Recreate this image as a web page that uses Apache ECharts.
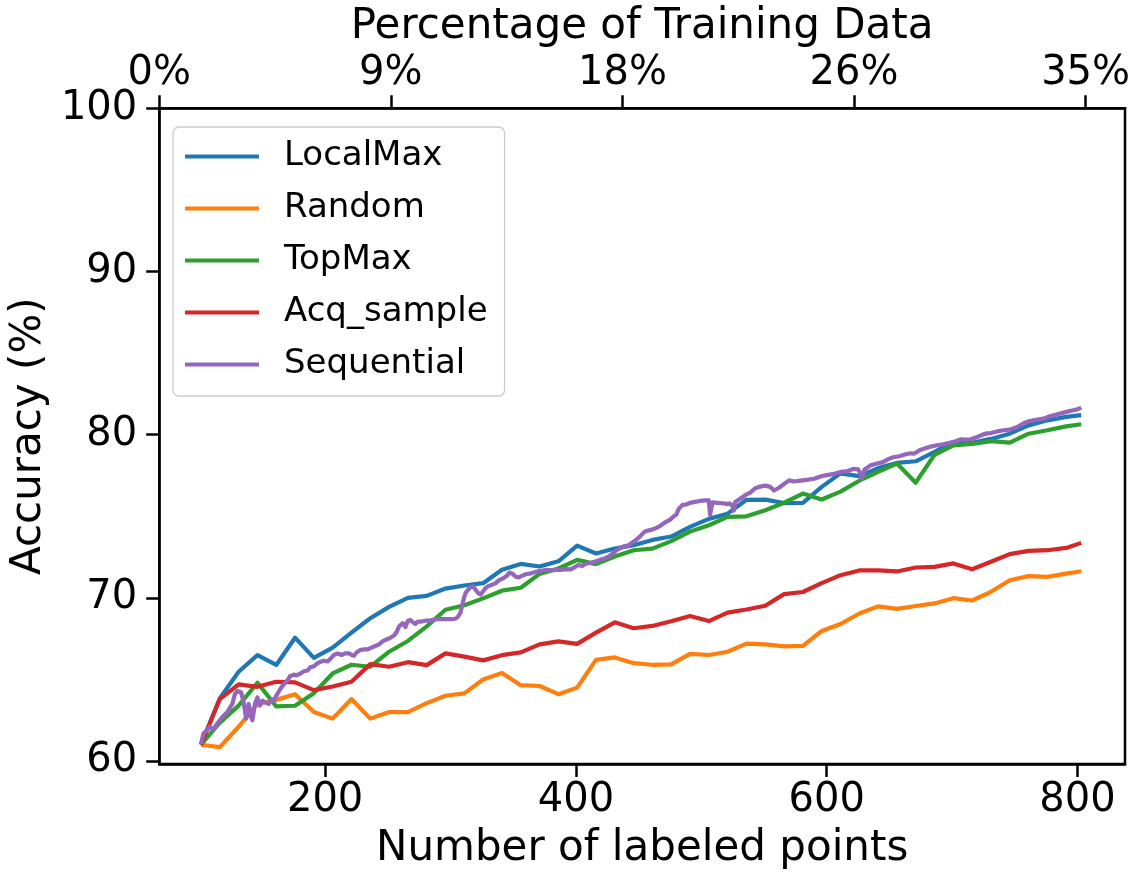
<!DOCTYPE html>
<html><head><meta charset="utf-8">
<script src="https://cdn.jsdelivr.net/npm/echarts@6/dist/echarts.min.js"></script>
<style>html,body{margin:0;padding:0;background:#fff}#chart{width:1141px;height:882px}</style>
</head><body><div id="chart"></div>
<script>
// Number of labeled points for the step-wise strategies
const xSteps = [101,116,131,146,161,176,191,206,221,236,251,266,281,296,311,326,341,356,371,386,401,416,431,446,461,476,491,506,521,536,551,566,581,596,611,626,641,656,671,686,701,716,731,746,761,776,791,803];
const localMax = [61.0,63.84,65.47,66.49,65.89,67.56,66.32,66.95,67.87,68.75,69.45,70.0,70.12,70.57,70.76,70.9,71.72,72.08,71.92,72.24,73.2,72.72,73.02,73.23,73.55,73.76,74.35,74.84,75.16,76.01,76.02,75.81,75.82,76.8,77.63,77.46,77.95,78.27,78.37,78.94,79.55,79.5,79.74,80.06,80.57,80.88,81.09,81.2];
const random = [61.0,60.85,62.1,63.5,63.75,64.1,63.0,62.6,63.8,62.6,63.0,63.0,63.55,64.0,64.15,65.0,65.4,64.65,64.6,64.1,64.5,66.2,66.35,66.0,65.9,65.93,66.57,66.5,66.7,67.2,67.15,67.03,67.06,67.97,68.4,69.04,69.48,69.33,69.5,69.66,69.98,69.84,70.37,71.08,71.33,71.29,71.49,71.63];
const topMax = [61.0,62.35,63.4,64.8,63.35,63.39,64.16,65.37,65.9,65.78,66.7,67.36,68.25,69.27,69.55,69.97,70.44,70.62,71.47,71.8,72.33,72.07,72.53,72.92,73.02,73.48,74.06,74.45,74.96,75.0,75.37,75.83,76.39,76.03,76.51,77.18,77.72,78.23,77.06,78.77,79.35,79.43,79.6,79.51,80.06,80.27,80.51,80.64];
const acqSample = [61.0,63.8,64.7,64.55,64.86,64.82,64.35,64.57,64.86,65.94,65.78,66.06,65.88,66.6,66.4,66.17,66.49,66.66,67.15,67.33,67.18,67.87,68.5,68.14,68.28,68.57,68.89,68.58,69.1,69.29,69.52,70.23,70.36,70.9,71.39,71.68,71.69,71.62,71.86,71.9,72.11,71.75,72.21,72.68,72.88,72.92,73.06,73.37];
// Sequential strategy (dense)
const seqX = [101,103,106,108,111,114,118,122,126,128,130,133,135,137,139,141,142,144,146,148,150,152,155,157,159,161,163,165,167,170,172,175,177,180,183,186,188,191,194,197,199,202,204,207,210,213,216,219,221,223,225,228,231,234,237,240,243,246,249,252,255,257,259,262,264,266,268,270,272,274,277,280,283,286,289,292,295,298,301,304,306,308,310,312,314,316,318,320,322,324,326,328,330,333,336,339,342,345,347,349,352,354,357,360,364,368,372,376,380,384,388,392,396,399,402,405,408,412,416,420,424,427,430,433,436,439,442,445,448,451,454,456,459,463,467,471,475,478,480,482,485,488,491,495,499,503,506,507,508,509,513,517,520,523,525,526,527,531,535,539,543,547,551,555,558,562,566,570,574,579,584,590,595,600,606,611,616,621,625,627,628,630,635,640,645,649,653,658,663,667,670,674,678,683,688,693,698,703,707,711,715,720,725,728,731,736,741,746,752,757,762,768,773,778,784,789,794,800,803];
const seqY = [61.05,61.7,61.9,62.1,61.95,62.3,62.7,63.0,63.5,64.1,64.3,64.2,63.6,62.6,63.5,62.7,62.5,63.5,63.9,63.4,63.7,63.6,63.5,63.8,63.7,64.0,64.25,64.5,64.7,64.95,65.2,65.3,65.25,65.35,65.5,65.55,65.75,65.8,66.0,66.1,66.15,66.1,66.25,66.5,66.6,66.5,66.6,66.6,66.5,66.45,66.65,66.8,66.85,66.85,66.95,67.05,67.15,67.35,67.45,67.55,67.7,67.9,68.25,68.45,68.2,68.6,68.65,68.5,68.4,68.55,68.55,68.6,68.6,68.65,68.7,68.7,68.7,68.7,68.7,68.72,68.85,69.1,69.8,70.3,70.5,70.65,70.7,70.5,70.3,70.2,70.4,70.6,70.72,70.8,70.9,71.1,71.2,71.35,71.55,71.5,71.3,71.25,71.35,71.45,71.5,71.6,71.65,71.72,71.68,71.72,71.72,71.76,71.75,71.88,72.02,71.95,72.1,72.15,72.25,72.35,72.45,72.58,72.75,72.95,73.08,73.18,73.22,73.4,73.55,73.75,74.0,74.1,74.15,74.25,74.4,74.62,74.78,75.0,75.1,75.45,75.7,75.72,75.82,75.88,75.94,75.97,75.97,75.1,75.05,75.85,75.82,75.8,75.76,75.78,75.6,75.35,75.88,76.08,76.29,76.45,76.72,76.82,76.88,76.8,76.58,76.75,76.98,77.2,77.13,77.18,77.23,77.3,77.44,77.52,77.6,77.72,77.75,77.9,77.88,77.6,77.32,77.85,78.12,78.23,78.32,78.5,78.62,78.68,78.8,78.86,78.84,79.04,79.15,79.27,79.35,79.41,79.5,79.6,79.72,79.7,79.72,79.86,80.02,80.08,80.1,80.2,80.27,80.31,80.47,80.7,80.84,80.92,80.98,81.13,81.25,81.35,81.45,81.55,81.66];
const seriesNames = ['LocalMax','Random','TopMax','Acq_sample','Sequential'];
const xTicks = [200,400,600,800];
const yTicks = [60,70,80,90,100];
const pctTickPos = [0,1,2,3,4];
const pctTickLabels = ['0%','9%','18%','26%','35%'];

const FONT = 'DejaVu Sans';
const colors = ['#1f77b4','#ff7f0e','#2ca02c','#d62728','#9467bd'];
const chart = echarts.init(document.getElementById('chart'), null, {renderer:'canvas'});
function mk(name, color, xs, ys) {
  return {
    name, type:'line', xAxisIndex:0, yAxisIndex:0,
    data: xs.map((x,i)=>[x, ys[i]]),
    symbol:'none', showSymbol:false, clip:true,
    lineStyle:{color, width:4.2, join:'round'}, itemStyle:{color},
    emphasis:{disabled:true}
  };
}
const axisLineStyle = {color:'#000', width:2.5};
const option = {
  animation:false,
  backgroundColor:'#fff',
  grid:{left:156.7, right:16, top:108.3, bottom:118, show:true, borderColor:'#000', borderWidth:2.5, backgroundColor:'transparent'},
  legend:{
    orient:'vertical', left:173, top:127, padding:[10,17,12,12],
    itemWidth:74, itemHeight:4.2, itemGap:13, icon:'rect',
    backgroundColor:'rgba(255,255,255,0.8)', borderColor:'#cccccc', borderWidth:1.3, borderRadius:6,
    textStyle:{fontFamily:FONT, fontSize:34, color:'#000', lineHeight:39, padding:[0,0,0,20]},
    data:seriesNames
  },
  xAxis:[
    {type:'value', position:'bottom', min:67.7, max:837.9,
     name:'Number of labeled points', nameLocation:'middle', nameGap:64,
     nameTextStyle:{fontFamily:FONT, fontSize:42, color:'#000'},
     axisLine:{show:true, lineStyle:axisLineStyle},
     axisTick:{show:true, length:13, lineStyle:{color:'#000', width:2.5}, customValues:xTicks},
     axisLabel:{fontFamily:FONT, fontSize:40, color:'#000', margin:17, customValues:xTicks},
     splitLine:{show:false}},
    {type:'value', position:'top', min:0, max:4.170,
     name:'Percentage of Training Data', nameLocation:'middle', nameGap:55,
     nameTextStyle:{fontFamily:FONT, fontSize:42, color:'#000'},
     axisLine:{show:true, lineStyle:axisLineStyle},
     axisTick:{show:true, length:13, lineStyle:{color:'#000', width:2.5}, customValues:pctTickPos},
     axisLabel:{fontFamily:FONT, fontSize:40, color:'#000', margin:15, customValues:pctTickPos,
       formatter:(v)=>{const k=pctTickPos.indexOf(Math.round(v)); return k>=0?pctTickLabels[k]:'';}},
     splitLine:{show:false}}
  ],
  yAxis:[
    {type:'value', min:59.82, max:100,
     name:'Accuracy (%)', nameLocation:'middle', nameGap:100, nameRotate:90,
     nameTextStyle:{fontFamily:FONT, fontSize:42, color:'#000'},
     axisLine:{show:true, lineStyle:axisLineStyle},
     axisTick:{show:true, length:13, lineStyle:{color:'#000', width:2.5}, customValues:yTicks},
     axisLabel:{fontFamily:FONT, fontSize:40, color:'#000', margin:22, customValues:yTicks},
     splitLine:{show:false}}
  ],
  series:[
    mk(seriesNames[0], colors[0], xSteps, localMax),
    mk(seriesNames[1], colors[1], xSteps, random),
    mk(seriesNames[2], colors[2], xSteps, topMax),
    mk(seriesNames[3], colors[3], xSteps, acqSample),
    mk(seriesNames[4], colors[4], seqX, seqY)
  ]
};
chart.setOption(option);
</script></body></html>
